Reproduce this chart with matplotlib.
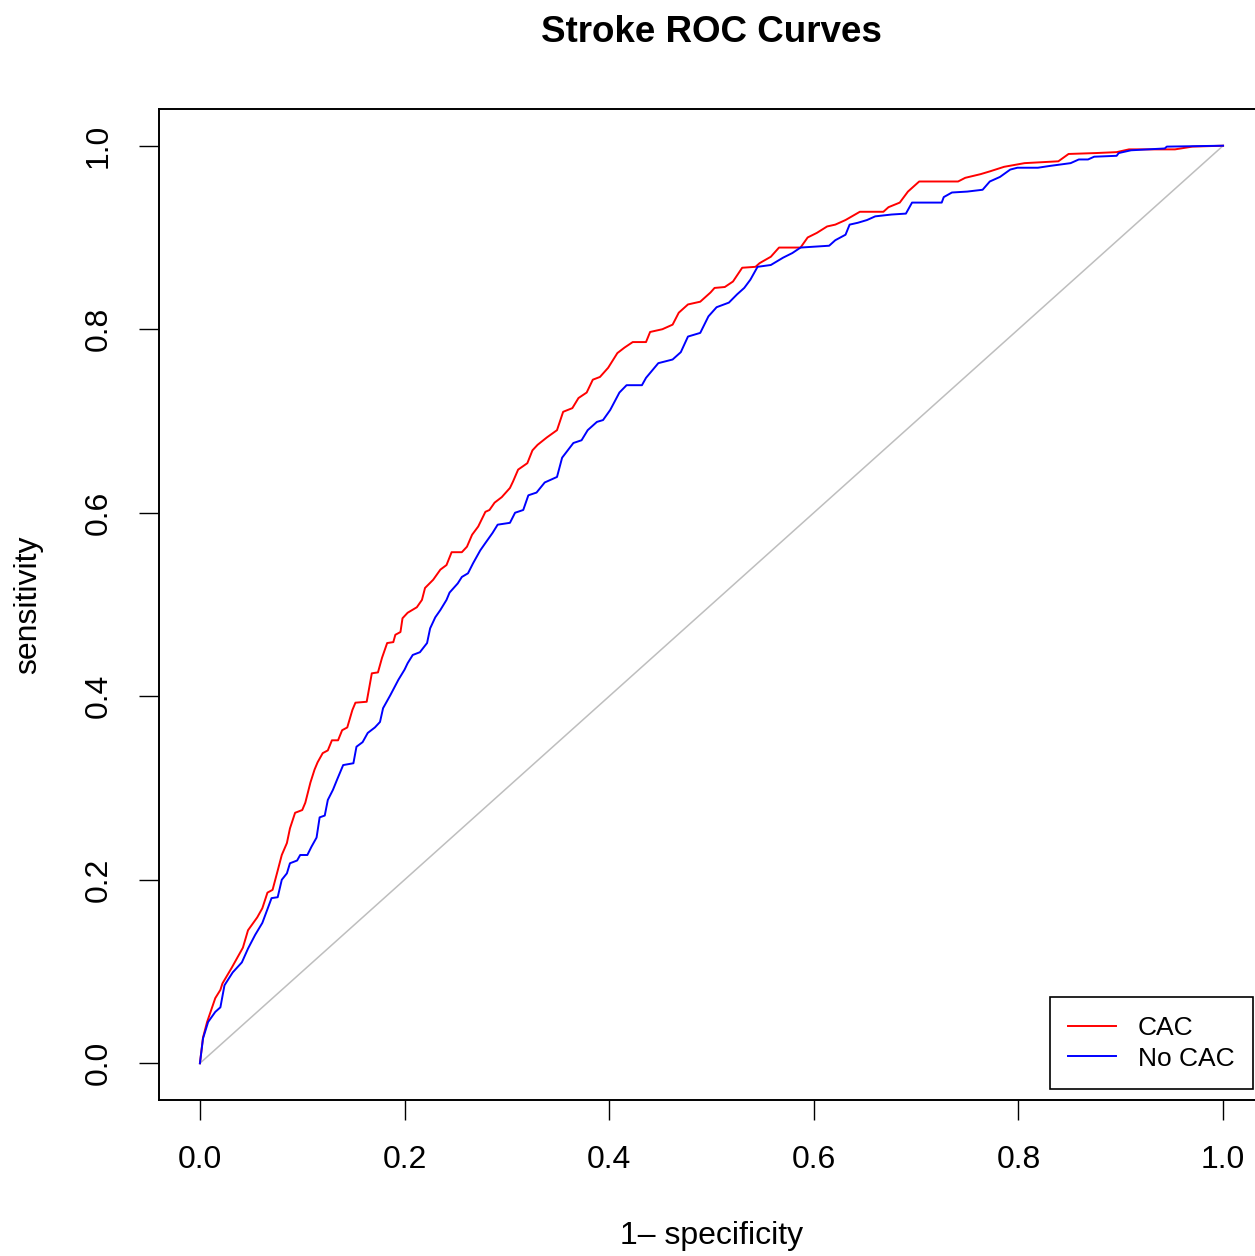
import matplotlib
matplotlib.use('Agg')
import matplotlib.pyplot as plt

plt.rcParams['font.family'] = ['Liberation Sans', 'DejaVu Sans']

# ROC points (1 - specificity, sensitivity)
cac_fpr = [0, 0.003, 0.007, 0.015, 0.020, 0.022, 0.031, 0.042, 0.047, 0.056, 0.061, 0.066,
           0.071, 0.076, 0.080, 0.085, 0.088, 0.093, 0.100, 0.103, 0.108, 0.112, 0.115, 0.120,
           0.125, 0.129, 0.135, 0.139, 0.144, 0.149, 0.152, 0.163, 0.168, 0.174, 0.178, 0.183,
           0.189, 0.191, 0.196, 0.198, 0.203, 0.212, 0.217, 0.220, 0.228, 0.235, 0.241, 0.246,
           0.256, 0.261, 0.266, 0.272, 0.279, 0.283, 0.288, 0.295, 0.303, 0.306, 0.311, 0.320,
           0.325, 0.330, 0.339, 0.349, 0.355, 0.364, 0.370, 0.378, 0.384, 0.391, 0.399, 0.408,
           0.415, 0.423, 0.436, 0.440, 0.452, 0.462, 0.468, 0.477, 0.489, 0.499, 0.503, 0.513,
           0.521, 0.530, 0.543, 0.547, 0.558, 0.566, 0.587, 0.594, 0.603, 0.613, 0.621, 0.631,
           0.645, 0.668, 0.673, 0.684, 0.692, 0.703, 0.741, 0.748, 0.763, 0.772, 0.786, 0.806,
           0.839, 0.849, 0.876, 0.896, 0.908, 0.953, 0.970, 1.0]
cac_tpr = [0, 0.028, 0.045, 0.071, 0.080, 0.087, 0.104, 0.126, 0.145, 0.159, 0.169, 0.186,
           0.189, 0.210, 0.227, 0.240, 0.256, 0.273, 0.276, 0.284, 0.306, 0.320, 0.328, 0.338,
           0.341, 0.352, 0.352, 0.363, 0.366, 0.385, 0.393, 0.394, 0.425, 0.426, 0.442, 0.458,
           0.459, 0.467, 0.470, 0.485, 0.491, 0.497, 0.505, 0.518, 0.527, 0.538, 0.543, 0.557,
           0.557, 0.563, 0.576, 0.585, 0.601, 0.603, 0.611, 0.617, 0.627, 0.634, 0.647, 0.654,
           0.668, 0.674, 0.682, 0.690, 0.710, 0.714, 0.725, 0.731, 0.745, 0.748, 0.758, 0.774,
           0.780, 0.786, 0.786, 0.797, 0.800, 0.805, 0.818, 0.827, 0.830, 0.840, 0.845, 0.846,
           0.852, 0.867, 0.868, 0.872, 0.879, 0.889, 0.889, 0.900, 0.905, 0.912, 0.914, 0.919,
           0.928, 0.928, 0.933, 0.938, 0.950, 0.961, 0.961, 0.965, 0.969, 0.972, 0.977, 0.981,
           0.983, 0.991, 0.992, 0.993, 0.996, 0.996, 0.999, 1.0]

nocac_fpr = [0, 0.003, 0.008, 0.015, 0.020, 0.024, 0.032, 0.041, 0.047, 0.054, 0.061, 0.065,
             0.070, 0.076, 0.080, 0.085, 0.088, 0.095, 0.098, 0.105, 0.109, 0.114, 0.117, 0.122,
             0.125, 0.130, 0.134, 0.140, 0.150, 0.153, 0.159, 0.164, 0.171, 0.176, 0.179, 0.186,
             0.194, 0.200, 0.203, 0.208, 0.215, 0.222, 0.225, 0.230, 0.235, 0.241, 0.244, 0.252,
             0.256, 0.262, 0.267, 0.274, 0.279, 0.286, 0.291, 0.303, 0.308, 0.316, 0.321, 0.329,
             0.337, 0.349, 0.354, 0.365, 0.373, 0.379, 0.388, 0.394, 0.401, 0.410, 0.417, 0.432,
             0.436, 0.448, 0.462, 0.470, 0.477, 0.489, 0.497, 0.505, 0.517, 0.525, 0.532, 0.538,
             0.545, 0.558, 0.570, 0.579, 0.587, 0.615, 0.621, 0.631, 0.635, 0.643, 0.652, 0.660,
             0.676, 0.690, 0.696, 0.725, 0.727, 0.735, 0.750, 0.765, 0.772, 0.782, 0.792, 0.799,
             0.819, 0.831, 0.851, 0.859, 0.868, 0.874, 0.896, 0.898, 0.910, 0.943, 0.945, 1.0]
nocac_tpr = [0, 0.027, 0.045, 0.056, 0.061, 0.085, 0.099, 0.110, 0.125, 0.140, 0.153, 0.165,
             0.180, 0.181, 0.200, 0.207, 0.218, 0.221, 0.227, 0.227, 0.236, 0.246, 0.268, 0.270,
             0.287, 0.298, 0.309, 0.325, 0.327, 0.345, 0.350, 0.360, 0.366, 0.372, 0.387, 0.401,
             0.418, 0.429, 0.436, 0.445, 0.448, 0.458, 0.474, 0.486, 0.494, 0.505, 0.513, 0.523,
             0.530, 0.534, 0.545, 0.559, 0.567, 0.578, 0.587, 0.589, 0.600, 0.603, 0.619, 0.622,
             0.633, 0.639, 0.660, 0.676, 0.679, 0.690, 0.699, 0.701, 0.712, 0.731, 0.739, 0.739,
             0.747, 0.763, 0.767, 0.775, 0.792, 0.796, 0.814, 0.824, 0.829, 0.838, 0.845, 0.854,
             0.868, 0.870, 0.878, 0.883, 0.889, 0.891, 0.897, 0.903, 0.914, 0.916, 0.919, 0.923,
             0.925, 0.926, 0.938, 0.938, 0.944, 0.949, 0.950, 0.952, 0.961, 0.966, 0.974, 0.976,
             0.976, 0.978, 0.981, 0.985, 0.985, 0.988, 0.989, 0.992, 0.995, 0.997, 0.999, 1.0]

ticks = [0.0, 0.2, 0.4, 0.6, 0.8, 1.0]
tick_labels = ['0.0', '0.2', '0.4', '0.6', '0.8', '1.0']

fig = plt.figure(figsize=(12.55, 12.56), dpi=100)
ax = fig.add_axes([159 / 1255, 156 / 1256, 1105 / 1255, 991 / 1256])

ax.plot([0, 1], [0, 1], color='#bebebe', lw=1.1)
ax.plot(cac_fpr, cac_tpr, color='#ff0000', lw=1.4, label='CAC')
ax.plot(nocac_fpr, nocac_tpr, color='#0000ff', lw=1.4, label='No CAC')

ax.set_xlim(-0.04, 1.04)
ax.set_ylim(-0.04, 1.04)
ax.set_xticks(ticks)
ax.set_xticklabels(tick_labels)
ax.set_yticks(ticks)
ax.set_yticklabels(tick_labels, rotation=90, va='center')
ax.tick_params(direction='out', length=14.5, width=1.0, labelsize=23, pad=18)

for s in ax.spines.values():
    s.set_linewidth(1.4)

ax.set_xlabel('1\u2013 specificity', fontsize=23)
ax.xaxis.set_label_coords(0.5, -0.137)
ax.xaxis.label.set_va('center')
ax.set_ylabel('sensitivity', fontsize=23)
ax.yaxis.set_label_coords(-0.1186, 0.5)
ax.yaxis.label.set_va('center')

fig.text(711 / 1255, 1 - 32 / 1256, 'Stroke ROC Curves', ha='center', va='center',
         fontsize=26.5, fontweight='bold')

leg = ax.legend(loc='lower right', bbox_to_anchor=(0.990, 0.011), borderaxespad=0,
                fontsize=19, fancybox=False, framealpha=1, edgecolor='black',
                handlelength=1.8, handletextpad=0.83, borderpad=0.7, labelspacing=0.26)
leg.get_frame().set_linewidth(1.2)

plt.savefig('out.png', dpi=100)
